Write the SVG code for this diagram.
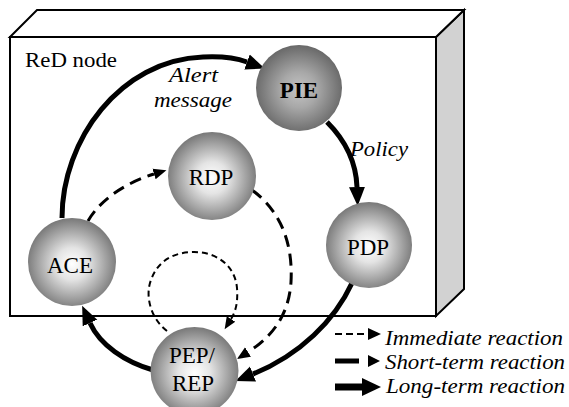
<svg xmlns="http://www.w3.org/2000/svg" width="569" height="407" viewBox="0 0 569 407">
<defs>
<radialGradient id="g" cx="50%" cy="52%" r="52%">
<stop offset="0" stop-color="#ffffff"/>
<stop offset="0.35" stop-color="#e4e4e4"/>
<stop offset="1" stop-color="#787878"/>
</radialGradient>
<radialGradient id="gd" cx="50%" cy="52%" r="52%">
<stop offset="0" stop-color="#c4c4c4"/>
<stop offset="0.4" stop-color="#a8a8a8"/>
<stop offset="1" stop-color="#686868"/>
</radialGradient>
<marker id="mL" markerUnits="userSpaceOnUse" markerWidth="20" markerHeight="18" refX="0" refY="9" orient="auto" viewBox="0 0 20 18">
<path d="M0,1 L19,9 L0,17 Z" fill="#000"/>
</marker>
<marker id="mS" markerUnits="userSpaceOnUse" markerWidth="14" markerHeight="12" refX="0" refY="6" orient="auto" viewBox="0 0 14 12">
<path d="M0,0.5 L13,6 L0,11.5 Z" fill="#000"/>
</marker>
<marker id="mI" markerUnits="userSpaceOnUse" markerWidth="13" markerHeight="12" refX="0" refY="6" orient="auto" viewBox="0 0 13 12">
<path d="M0,1 L12,6 L0,11 Z" fill="#000"/>
</marker>
</defs>

<g id="red-node">
<polygon points="436,37 464,10 464,289 436,316" fill="#d2d2d2" stroke="#000" stroke-width="2"/>
<polygon points="10,37 37,10 464,10 436,37" fill="#fff" stroke="#000" stroke-width="2"/>
<rect x="10" y="37" width="426" height="279" fill="#fff" stroke="#000" stroke-width="2"/>
<text x="25" y="67" style="font-family:'Times New Roman','Liberation Serif',serif;font-size:20px" textLength="92" lengthAdjust="spacingAndGlyphs">ReD node</text>
</g>

<g id="connectors" fill="none" stroke="#000">
<g stroke-width="5">
<path d="M62,218 C62,140 120,60 203,57 C222,56 236,58 247,62" marker-end="url(#mL)"/>
<path d="M327,122 C345,140 356,160 357,187" marker-end="url(#mL)"/>
<path d="M352,283 C335,320 300,355 253,374" marker-end="url(#mL)"/>
<path d="M153,370 C125,362 100,345 90,323" marker-end="url(#mL)"/>
</g>
<g stroke-width="3" stroke-dasharray="12 7">
<path d="M88,221 C100,200 125,183 154,174" marker-end="url(#mS)"/>
<path d="M252,190 C282,212 293,245 291,282 C289,315 272,337 248,352" marker-end="url(#mS)"/>
</g>
<path stroke-width="2" stroke-dasharray="6 4" d="M167,331 C150,318 145,295 151,280 C158,260 175,252 194,252 C216,252 235,265 237,288 C238,302 236,311 231,319" marker-end="url(#mI)"/>
<text x="169" y="82" fill="#000" stroke="none" style="font-family:'Times New Roman','Liberation Serif',serif;font-style:italic;font-size:20px" textLength="49" lengthAdjust="spacingAndGlyphs">Alert</text>
<text x="154" y="107" fill="#000" stroke="none" style="font-family:'Times New Roman','Liberation Serif',serif;font-style:italic;font-size:20px" textLength="78" lengthAdjust="spacingAndGlyphs">message</text>
<text x="350" y="156" fill="#000" stroke="none" style="font-family:'Times New Roman','Liberation Serif',serif;font-style:italic;font-size:20px" textLength="58" lengthAdjust="spacingAndGlyphs">Policy</text>
</g>

<g id="PIE">
<circle cx="299" cy="88" r="43" fill="url(#gd)"/>
<text x="299" y="98" text-anchor="middle" style="font-family:'Times New Roman','Liberation Serif',serif;font-size:23px;font-weight:bold">PIE</text>
</g>
<g id="RDP">
<circle cx="212" cy="176" r="44" fill="url(#g)"/>
<text x="211" y="185" text-anchor="middle" style="font-family:'Times New Roman','Liberation Serif',serif;font-size:23px">RDP</text>
</g>
<g id="ACE">
<circle cx="72" cy="262" r="44" fill="url(#g)"/>
<text x="70" y="273" text-anchor="middle" style="font-family:'Times New Roman','Liberation Serif',serif;font-size:23px">ACE</text>
</g>
<g id="PDP">
<circle cx="369" cy="245" r="43" fill="url(#g)"/>
<text x="368" y="255" text-anchor="middle" style="font-family:'Times New Roman','Liberation Serif',serif;font-size:23px">PDP</text>
</g>
<g id="PEP-REP">
<circle cx="194.5" cy="371" r="44" fill="url(#g)"/>
<text x="192" y="363" text-anchor="middle" style="font-family:'Times New Roman','Liberation Serif',serif;font-size:23px">PEP/</text>
<text x="193" y="391" text-anchor="middle" style="font-family:'Times New Roman','Liberation Serif',serif;font-size:23px">REP</text>
</g>

<g id="legend">
<line x1="335" y1="334" x2="368" y2="334" stroke="#000" stroke-width="2" stroke-dasharray="7 4"/>
<polygon points="368,328 381,334 368,340" fill="#000"/>
<line x1="335" y1="361" x2="359" y2="361" stroke="#000" stroke-width="5"/>
<polygon points="368,355 380,361 368,367" fill="#000"/>
<line x1="335" y1="387" x2="364" y2="387" stroke="#000" stroke-width="7"/>
<polygon points="362,378 381,387 362,396" fill="#000"/>
<text x="385" y="345" style="font-family:'Times New Roman','Liberation Serif',serif;font-style:italic;font-size:20px" textLength="178" lengthAdjust="spacingAndGlyphs">Immediate reaction</text>
<text x="385" y="369" style="font-family:'Times New Roman','Liberation Serif',serif;font-style:italic;font-size:20px" textLength="180" lengthAdjust="spacingAndGlyphs">Short-term reaction</text>
<text x="386" y="393" style="font-family:'Times New Roman','Liberation Serif',serif;font-style:italic;font-size:20px" textLength="179" lengthAdjust="spacingAndGlyphs">Long-term reaction</text>
</g>
</svg>
